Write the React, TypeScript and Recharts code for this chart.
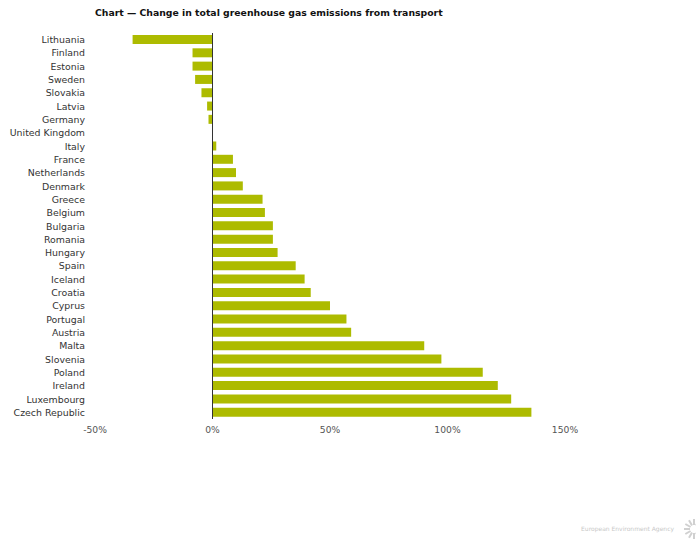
import { BarChart, Bar, XAxis, YAxis, ReferenceLine } from "recharts";

const countries = [
  "Lithuania", "Finland", "Estonia", "Sweden", "Slovakia", "Latvia", "Germany",
  "United Kingdom", "Italy", "France", "Netherlands", "Denmark", "Greece", "Belgium",
  "Bulgaria", "Romania", "Hungary", "Spain", "Iceland", "Croatia", "Cyprus",
  "Portugal", "Austria", "Malta", "Slovenia", "Poland", "Ireland", "Luxembourg",
  "Czech Republic",
];

const change = [
  -34.0, -8.5, -8.5, -7.4, -4.7, -2.3, -1.7,
  0, 1.6, 8.7, 10.0, 12.9, 21.3, 22.3,
  25.7, 25.7, 27.7, 35.4, 39.2, 41.8, 50.0,
  57.0, 59.0, 90.1, 97.4, 115.0, 121.4, 127.1,
  135.7,
];

const xTicks = [-50, 0, 50, 100, 150];

const data = countries.map((name, i) => ({ name, value: change[i] }));

const font = "Verdana, 'DejaVu Sans', sans-serif";

// single-line category labels (recharts would wrap long names)
const CountryTick = (props: any) => {
  const { x, y, payload } = props;
  return (
    <text x={x} y={y} textAnchor="end" dominantBaseline="central" fill="#333" fontSize={9.4} fontFamily={font}>
      {payload.value}
    </text>
  );
};

export default function App() {
  return (
    <div style={{ position: "absolute", left: 0, top: 0, width: 696, height: 539, background: "#fff", fontFamily: font }}>
      <div
        style={{
          position: "absolute",
          left: 95,
          top: 7,
          fontSize: 9.3,
          fontWeight: "bold",
          color: "#111",
          whiteSpace: "nowrap",
        }}
      >
        Chart — Change in total greenhouse gas emissions from transport
      </div>
      <BarChart
        width={696}
        height={539}
        data={data}
        layout="vertical"
        margin={{ top: 33, right: 131, left: 0, bottom: 90 }}
        barCategoryGap="33%"
      >
        <XAxis
          type="number"
          domain={[-50, 150]}
          ticks={xTicks}
          tickFormatter={(v: number) => `${v}%`}
          axisLine={false}
          tickLine={false}
          tickSize={0}
          tickMargin={7}
          interval={0}
          tick={{ fill: "#555", fontSize: 9.2, fontFamily: font }}
        />
        <YAxis
          type="category"
          dataKey="name"
          width={95}
          axisLine={false}
          tickLine={false}
          tickSize={0}
          tickMargin={10}
          interval={0}
          tick={<CountryTick />}
        />
        <Bar dataKey="value" fill="#adbb00" barSize={9} isAnimationActive={false} />
        <ReferenceLine x={0} stroke="#333" strokeWidth={1} />
      </BarChart>
      <div
        style={{
          position: "absolute",
          right: 22,
          top: 525,
          fontSize: 6,
          color: "#c8c8c8",
          whiteSpace: "nowrap",
        }}
      >
        European Environment Agency
      </div>
      <svg width={18} height={24} style={{ position: "absolute", left: 680, top: 515 }}>
        {[0, 30, 60, 90, 120, 150, 180, 210, 240, 270, 300, 330].map((a) => {
          const r = (a * Math.PI) / 180;
          return (
            <line
              key={a}
              x1={14 + Math.cos(r) * 4}
              y1={14 + Math.sin(r) * 4}
              x2={14 + Math.cos(r) * 10}
              y2={14 + Math.sin(r) * 10}
              stroke="#d0d0d0"
              strokeWidth={2}
            />
          );
        })}
      </svg>
    </div>
  );
}
